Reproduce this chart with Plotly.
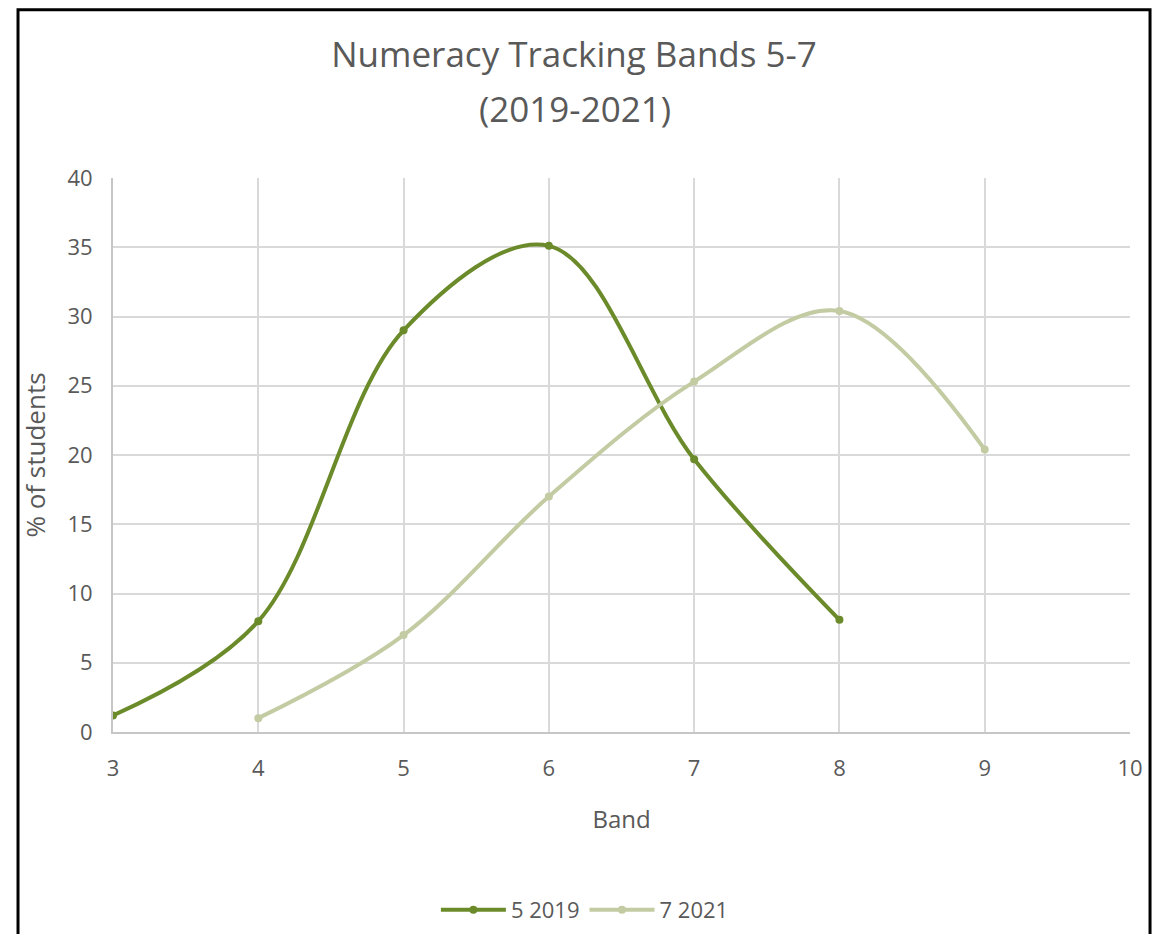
import plotly.graph_objects as go

bands_2019 = [3, 4, 5, 6, 7, 8]
pct_2019 = [1.2, 8.0, 29.0, 35.1, 19.7, 8.1]
bands_2021 = [4, 5, 6, 7, 8, 9]
pct_2021 = [1.0, 7.0, 17.0, 25.3, 30.4, 20.4]

title_line1 = "Numeracy Tracking Bands 5-7"
title_line2 = "(2019-2021)"
x_title = "Band"
y_title = "% of students"

font_family = "'Open Sans', sans-serif"
grey = "#595959"
grid = "#d9d9d9"

fig = go.Figure()
fig.add_trace(go.Scatter(
    x=bands_2019, y=pct_2019, name="5 2019", mode="lines+markers",
    line=dict(color="#6b8b2b", width=4, shape="spline", smoothing=1.0),
    marker=dict(color="#6b8b2b", size=8, symbol="circle"),
))
fig.add_trace(go.Scatter(
    x=bands_2021, y=pct_2021, name="7 2021", mode="lines+markers",
    line=dict(color="#c3cba3", width=4, shape="spline", smoothing=1.0),
    marker=dict(color="#c3cba3", size=8, symbol="circle"),
))

fig.update_layout(
    width=1163, height=934,
    paper_bgcolor="white", plot_bgcolor="white",
    margin=dict(l=105, r=41, t=170, b=209),
    font=dict(family=font_family, color=grey, size=20),
    title=dict(text=title_line1, xref="container", x=0.4867, xanchor="center",
               yref="container", y=0.9497, yanchor="middle",
               font=dict(size=35, color=grey, family=font_family)),
    xaxis=dict(range=[3, 10], dtick=1, showgrid=True, gridcolor=grid, gridwidth=2,
               showline=True, linecolor="#c6c6c6", linewidth=2, zeroline=False,
               title=dict(text=x_title, standoff=30, font=dict(size=24, color=grey)),
               tickfont=dict(size=22, color=grey), ticks="", ticklabelstandoff=16),
    yaxis=dict(range=[0, 40], dtick=5, showgrid=True, gridcolor=grid, gridwidth=2,
               showline=True, linecolor="#c6c6c6", linewidth=2, zeroline=False,
               title=dict(text=y_title, standoff=14, font=dict(size=26, color=grey)),
               tickfont=dict(size=22, color=grey), ticks="", ticklabelstandoff=14),
    legend=dict(orientation="h", x=0.464, xanchor="center", y=-0.319, yanchor="middle",
                font=dict(size=22, color=grey), bgcolor="rgba(0,0,0,0)", itemwidth=65),
    showlegend=True,
)

fig.add_annotation(text=title_line2, xref="paper", yref="paper", x=0.454, y=1.1261,
                   xanchor="center", yanchor="middle", showarrow=False,
                   font=dict(size=35, color=grey, family=font_family))

fig.add_shape(type="rect", xref="paper", yref="paper",
              x0=-0.0934, x1=1.0197, y0=-0.45, y1=1.3036,
              line=dict(color="black", width=3), fillcolor="rgba(0,0,0,0)", layer="above")

fig.write_html("out.html")
